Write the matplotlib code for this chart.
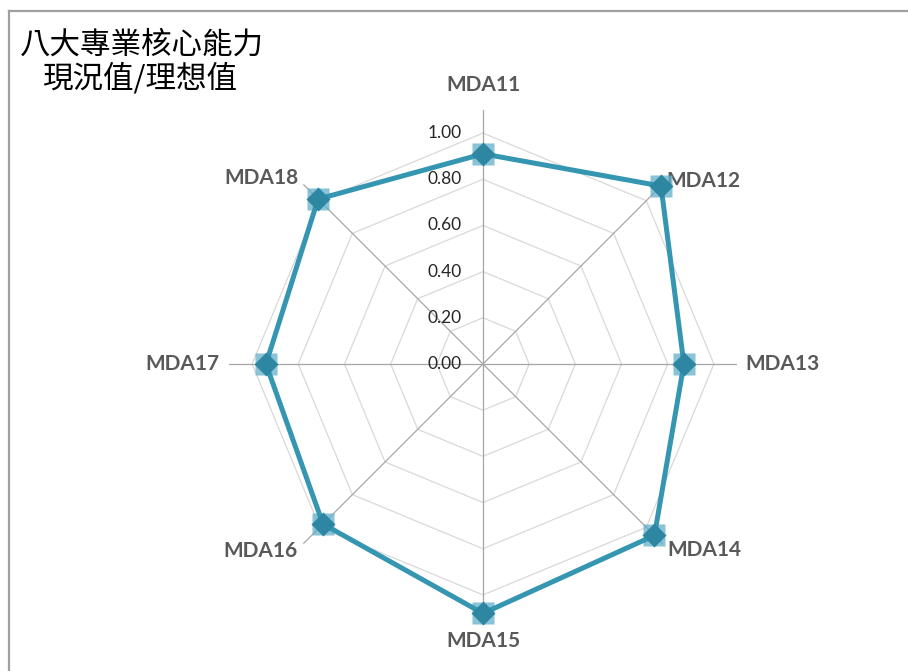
import numpy as np
import matplotlib
matplotlib.use('Agg')
import matplotlib.pyplot as plt
from matplotlib.lines import Line2D

categories = ['MDA11', 'MDA12', 'MDA13', 'MDA14', 'MDA15', 'MDA16', 'MDA17', 'MDA18']
values = [0.91, 1.09, 0.87, 1.05, 1.08, 0.98, 0.94, 1.01]
ticks = [0.0, 0.2, 0.4, 0.6, 0.8, 1.0]
tick_labels = ['0.00', '0.20', '0.40', '0.60', '0.80', '1.00']
title_lines = ['八大專業核心能力', '現況值/理想值']
r_max = 1.1

# label placement (angle in degrees clockwise from north, radius in data units)
label_pos = [(0, 1.21), (50.4, 1.24), (90, 1.295), (130, 1.25),
             (180, 1.20), (230, 1.26), (270, 1.30), (310, 1.25)]

W, H = 908, 671
fig = plt.figure(figsize=(W / 100, H / 100), dpi=100)
cx, cy, rad = 483, 364, 254
ax = fig.add_axes([(cx - rad) / W, (H - cy - rad) / H, 2 * rad / W, 2 * rad / H],
                  projection='polar')
ax.set_theta_offset(np.pi / 2)
ax.set_theta_direction(-1)
ax.set_ylim(0, r_max)
ax.axis('off')

n = len(categories)
theta = np.arange(n) * 2 * np.pi / n
theta_c = np.append(theta, theta[0])

# grid rings
for t in ticks[1:]:
    ax.plot(theta_c, [t] * (n + 1), color='#D9D9D9', lw=0.9, zorder=1)
# spokes
for th in theta:
    ax.plot([th, th], [0, r_max], color='#A6A6A6', lw=0.9, zorder=2)

# tick labels
for t, lbl in zip(ticks, tick_labels):
    ax.annotate(lbl, xy=(0, t), xytext=(-21, 0), textcoords='offset pixels',
                ha='right', va='center', fontsize=12.5, family='Lato',
                color='#262626', zorder=3)

# series
vals_c = np.append(values, values[0])
ax.plot(theta_c, vals_c, color='#3596B2', lw=3.6, zorder=5,
        solid_joinstyle='round', clip_on=False)
ax.plot(theta, values, ls='none', marker='s', markersize=15.5,
        markerfacecolor='#62AFC8', markeredgecolor='none', alpha=0.75,
        zorder=4, clip_on=False)
ax.plot(theta, values, ls='none', marker='D', markersize=12,
        markerfacecolor='#2E87A2', markeredgecolor='none', zorder=6, clip_on=False)

# category labels
for lbl, (ang, r) in zip(categories, label_pos):
    ax.text(np.deg2rad(ang), r, lbl, ha='center', va='center', fontsize=15,
            family='Lato', fontweight='bold', color='#595959', clip_on=False)

# title
fig.text(20 / W, 1 - 45 / H, title_lines[0], ha='left', va='center', fontsize=22,
         family=['Noto Sans CJK TC', 'DejaVu Sans'], color='black')
fig.text(42 / W, 1 - 79 / H, title_lines[1], ha='left', va='center', fontsize=22,
         family=['Noto Sans CJK TC', 'DejaVu Sans'], color='black')

# chart frame (left and top edges visible)
fig.add_artist(Line2D([8.5 / W, 8.5 / W], [0, 1 - 11 / H], color='#A0A0A0', lw=1.6))
fig.add_artist(Line2D([8.5 / W, 1], [1 - 11 / H, 1 - 11 / H], color='#A0A0A0', lw=1.6))

fig.savefig('out.png', dpi=100)
